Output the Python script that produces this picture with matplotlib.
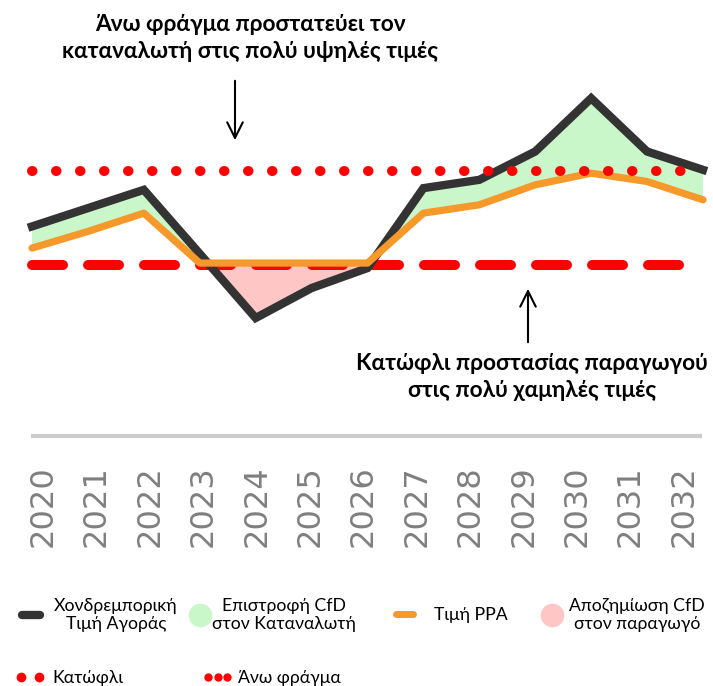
import matplotlib.pyplot as plt
from matplotlib.lines import Line2D

# data (price index, arbitrary units)
years = [2020, 2021, 2022, 2023, 2024, 2025, 2026, 2027, 2028, 2029, 2030, 2031, 2032]
market = [32, 37.5, 43, 23.8, 4.5, 13.5, 19.5, 43.5, 46, 54.5, 70.5, 54.5, 49]
ppa = [25.5, 30.5, 36, 21, 21, 21, 21, 36, 38.5, 44.5, 48, 45.5, 40]
floor_level = 20.5
cap_level = 48.5
year_labels = [str(y) for y in years]

top_note = "Άνω φράγμα προστατεύει τον\nκαταναλωτή στις πολύ υψηλές τιμές"
bottom_note = "Κατώφλι προστασίας παραγωγού\nστις πολύ χαμηλές τιμές"

legend_labels = ["Χονδρεμπορική\nΤιμή Αγοράς", "Επιστροφή CfD\nστον Καταναλωτή",
                 "Τιμή PPA", "Αποζημίωση CfD\nστον παραγωγό", "Κατώφλι", "Άνω φράγμα"]

BLACK = "#333333"
ORANGE = "#F7982A"
RED = "#FF0000"
GREEN = "#C9F7C9"
PINK = "#FFC6C6"

FONT = ["Lato", "DejaVu Sans"]

W, H = 713, 686
fig = plt.figure(figsize=(W / 100, H / 100), dpi=100)


def fx(px):
    return px / W


def fy(py):
    return 1 - py / H


# main chart
ax = fig.add_axes([fx(32), fy(333), fx(703) - fx(32), 333 / H])
ax.set_xlim(years[0], years[-1])
ax.set_ylim(0, 100)
ax.axis("off")

ax.fill_between(years, market, ppa, where=[m >= p for m, p in zip(market, ppa)],
                interpolate=True, color=GREEN, lw=0, zorder=1)
ax.fill_between(years, market, ppa, where=[m < p for m, p in zip(market, ppa)],
                interpolate=True, color=PINK, lw=0, zorder=1)

ax.axhline(floor_level, color=RED, lw=7.2, dashes=(3.1, 2.5), dash_capstyle="round",
           zorder=2, clip_on=False)
ax.plot(years, market, color=BLACK, lw=6, solid_joinstyle="miter", zorder=3, clip_on=False)
ax.plot(years, ppa, color=ORANGE, lw=5.2, solid_joinstyle="round",
        solid_capstyle="round", zorder=4, clip_on=False)
ax.axhline(cap_level, color=RED, lw=7.2, dashes=(0.05, 2.35), dash_capstyle="round",
           zorder=5, clip_on=False)

# notes and arrows
fig.text(fx(250), fy(38), top_note, ha="center", va="center", fontsize=16.3,
         fontweight="bold", family=FONT, linespacing=1.3)
fig.text(fx(532), fy(377), bottom_note, ha="center", va="center", fontsize=16.3,
         fontweight="bold", family=FONT, linespacing=1.3)
fig.add_artist(plt.Annotation("", xy=(fx(235), fy(143)), xytext=(fx(235), fy(78)),
                              xycoords="figure fraction", textcoords="figure fraction",
                              arrowprops=dict(arrowstyle="->", lw=1.5, color="black",
                                              mutation_scale=28)))
fig.add_artist(plt.Annotation("", xy=(fx(528), fy(286)), xytext=(fx(528), fy(345)),
                              xycoords="figure fraction", textcoords="figure fraction",
                              arrowprops=dict(arrowstyle="->", lw=1.5, color="black",
                                              mutation_scale=28)))

# year axis
ax2 = fig.add_axes([fx(33), fy(436), fx(700) - fx(33), 0.001])
ax2.set_xlim(-10 / 53.4, 12 + 16 / 53.4)
ax2.set_ylim(0, 1)
for side in ["top", "left", "right"]:
    ax2.spines[side].set_visible(False)
ax2.spines["bottom"].set_color("#cccccc")
ax2.spines["bottom"].set_linewidth(3)
ax2.set_yticks([])
ax2.set_xticks(range(len(year_labels)))
ax2.set_xticklabels(year_labels, rotation=90, fontsize=23, color="#7f7f7f",
                    family="DejaVu Sans")
ax2.tick_params(axis="x", length=0, pad=21)
ax2.patch.set_visible(False)

# legend, one entry at a time
handles = [
    Line2D([], [], color=BLACK, lw=6, solid_capstyle="round"),
    Line2D([], [], ls="", marker="o", ms=17, mfc=GREEN, mec="none"),
    Line2D([], [], color=ORANGE, lw=5, solid_capstyle="round"),
    Line2D([], [], ls="", marker="o", ms=17, mfc=PINK, mec="none"),
    Line2D([], [], ls="", marker="o", ms=6, color=RED),
    Line2D([], [], ls="", marker="o", ms=5, color=RED),
]
# left edge px, centre y px, handlelength, handletextpad, numpoints
spots = [(17, 615, 1.6, 0.5, 2), (189, 615, 1.2, 0.1, 1), (391, 615, 1.55, 0.88, 2),
         (541, 615, 1.2, 0.4, 1), (15.6, 678, 1.6, 0.48, 2), (202.6, 678, 1.7, 0.3, 3)]
for h, lab, (px, py, hl, tp, npts) in zip(handles, legend_labels, spots):
    leg = fig.legend([h], [lab], loc="center left", bbox_to_anchor=(fx(px), fy(py)),
                     frameon=False, borderpad=0, borderaxespad=0, handlelength=hl,
                     handletextpad=tp, numpoints=npts,
                     prop={"family": FONT, "size": 12.7})
    for t in leg.get_texts():
        t.set_multialignment("center")

fig.savefig("out.png", dpi=100)
